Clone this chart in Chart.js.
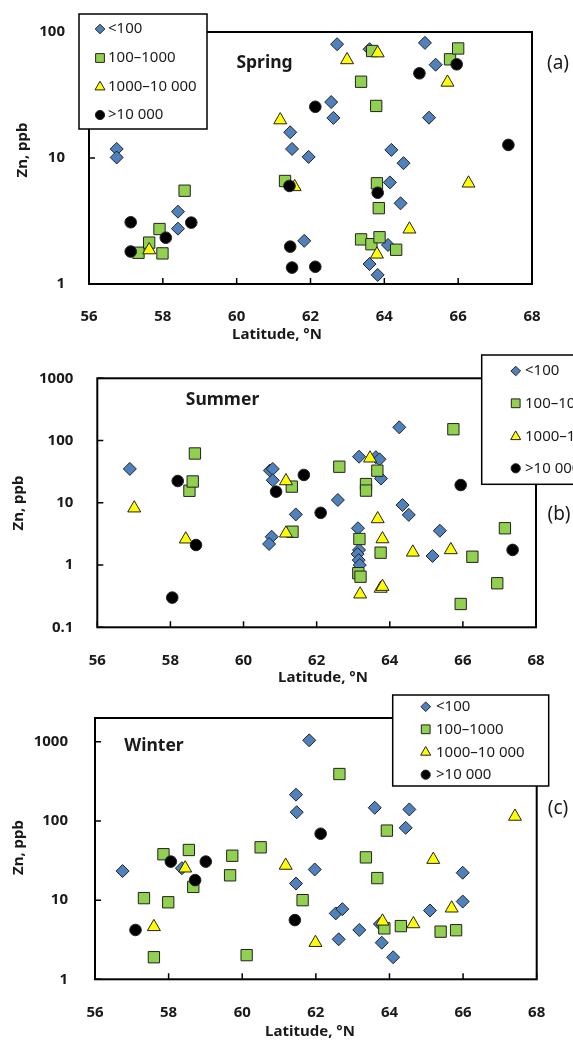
<!DOCTYPE html>
<html>
<head>
<meta charset="utf-8">
<title>Zn vs latitude</title>
<script src="https://cdn.jsdelivr.net/npm/chart.js@4.4.1/dist/chart.umd.min.js"></script>
<style>
  html, body { margin: 0; padding: 0; background: #fff; }
  body { width: 573px; height: 1040px; position: relative; overflow: hidden; }
  canvas { position: absolute; left: 0; }
</style>
</head>
<body>
<canvas id="springChart" width="573" height="345" style="top:0"></canvas>
<canvas id="summerChart" width="573" height="345" style="top:345px"></canvas>
<canvas id="winterChart" width="573" height="350" style="top:690px"></canvas>
<script>
// ============================================
// DATA  (points are [latitude °N, Zn ppb])
// ============================================
const latTicks = [56, 58, 60, 62, 64, 66, 68];
const springZnTicks = [1, 10, 100];
const summerZnTicks = [0.1, 1, 10, 100, 1000];
const winterZnTicks = [1, 10, 100, 1000];
const groupLabels = ['<100', '100–1000', '1000–10 000', '>10 000'];

// Spring
const springLt100 = [[56.75,11.8],[56.75,10.1],[58.41,3.75],[58.41,2.75],[61.45,16],[61.5,11.8],[61.95,10.2],[61.83,2.2],[62.72,80],[62.56,27.8],[62.62,20.8],[63.6,73],[63.6,1.44],[63.82,1.18],[64.1,2.04],[64.19,11.6],[64.52,9.1],[64.15,6.4],[64.44,4.37],[65.1,82],[65.39,55],[65.21,20.9]];
const spring100to1000 = [[57.34,1.77],[57.63,2.13],[57.91,2.73],[57.99,1.75],[58.59,5.5],[61.31,6.57],[63.37,40.3],[63.67,70.7],[63.78,25.9],[63.8,6.3],[63.85,4.0],[63.37,2.26],[63.65,2.07],[63.87,2.35],[64.32,1.87],[65.78,60.7],[66.0,74]];
const spring1000to10000 = [[57.63,1.86],[61.18,20],[61.57,5.9],[62.99,60],[63.82,68],[63.8,1.72],[64.68,2.72],[65.71,39.8],[66.28,6.3]];
const springGt10000 = [[57.13,3.09],[57.13,1.81],[58.08,2.33],[58.77,3.07],[61.43,6.0],[61.45,1.98],[61.5,1.35],[62.13,25.5],[62.13,1.37],[63.82,5.3],[64.95,47],[65.96,55.4],[67.36,12.7]];

// Summer
const summerLt100 = [[56.89,35],[60.72,33],[60.8,35],[60.8,23],[60.77,2.85],[60.7,2.18],[61.43,6.5],[62.58,11.1],[63.16,55],[63.62,54],[63.72,50],[63.76,24.5],[63.13,3.9],[63.16,1.75],[63.12,1.5],[63.15,1.2],[63.18,1.0],[64.26,163],[64.35,9.2],[64.52,6.4],[65.17,1.4],[65.37,3.56]];
const summer100to1000 = [[58.52,15.6],[58.61,22],[58.67,62],[61.32,18.2],[61.34,3.43],[62.62,38],[63.35,20],[63.35,15.7],[63.66,32.8],[63.17,2.62],[63.75,1.58],[63.14,0.74],[63.2,0.65],[65.74,152],[65.94,0.237],[66.26,1.36],[66.94,0.51],[67.15,3.9]];
const summer1000to10000 = [[57.01,8.2],[58.42,2.6],[61.16,22.4],[61.16,3.24],[63.46,52],[63.67,5.5],[63.8,2.62],[63.19,0.34],[63.75,0.42],[63.8,0.45],[64.63,1.6],[65.67,1.75]];
const summerGt10000 = [[58.05,0.3],[58.2,22.4],[58.7,2.1],[60.89,15.1],[61.65,28],[62.11,6.9],[65.94,19.3],[67.36,1.75]];

// Winter
const winterLt100 = [[56.75,23.3],[58.36,25.3],[61.46,215],[61.48,129],[61.46,16.2],[61.82,1044],[61.97,24.4],[62.54,6.8],[62.72,7.7],[62.62,3.2],[63.18,4.2],[63.6,147],[63.74,5.0],[63.79,2.9],[64.1,1.9],[64.44,82],[64.54,140],[65.1,7.4],[65.99,22.2],[65.99,9.6]];
const winter100to1000 = [[57.33,10.6],[57.6,1.9],[57.86,38],[57.99,9.4],[58.55,43],[58.67,14.7],[59.67,20.6],[59.73,36.4],[60.12,2.02],[60.5,46.5],[61.64,10],[62.64,392],[63.36,34.7],[63.67,19],[63.93,75.6],[63.86,4.4],[64.31,4.7],[65.39,4.0],[65.81,4.17]];
const winter1000to10000 = [[57.6,4.6],[58.45,25.3],[61.18,27.4],[61.99,2.9],[63.81,5.4],[64.65,5.0],[65.19,32.5],[65.69,7.9],[67.41,114]];
const winterGt10000 = [[57.1,4.2],[58.06,30.7],[58.72,17.9],[59.01,30.7],[61.43,5.6],[62.13,69]];

// ============================================
// STYLE
// ============================================
const FONT = "'Noto Sans', 'DejaVu Sans', sans-serif";
const TEXT = '#1a1a1a';
const markers = [
  { style: 'rectRot',  fill: '#4F81BD', radius: 6.5, legendRadius: 4.8 },
  { style: 'rect',     fill: '#92D050', radius: 8,   legendRadius: 6.2 },
  { style: 'triangle', fill: '#FFFF00', radius: 7.5, legendRadius: 5.8 },
  { style: 'circle',   fill: '#000000', radius: 5.8, legendRadius: 4.6 }
];

// frame, inward tick marks, panel texts and the boxed legend
const panelDecor = {
  id: 'panelDecor',
  beforeDatasetsDraw(chart) {
    const a = chart.chartArea, ctx = chart.ctx;
    const sx = chart.scales.x, sy = chart.scales.y;
    ctx.save();
    ctx.strokeStyle = '#000';
    ctx.lineWidth = 1.5;
    ctx.beginPath();
    sx.ticks.forEach(function(t) {
      const px = sx.getPixelForValue(t.value);
      ctx.moveTo(px, a.bottom);
      ctx.lineTo(px, a.bottom - 6);
    });
    sy.ticks.forEach(function(t) {
      const py = sy.getPixelForValue(t.value);
      ctx.moveTo(a.left, py);
      ctx.lineTo(a.left + 6, py);
    });
    ctx.stroke();
    ctx.lineWidth = 2;
    ctx.strokeRect(a.left, a.top, a.right - a.left, a.bottom - a.top);
    ctx.restore();
  },
  afterDraw(chart, args, o) {
    const ctx = chart.ctx;
    ctx.save();
    ctx.fillStyle = TEXT;
    ctx.textAlign = 'center';
    ctx.textBaseline = 'middle';

    ctx.font = 'bold 17.5px ' + FONT;
    ctx.fillText(o.title, o.titlePos[0], o.titlePos[1]);
    ctx.font = '19px ' + FONT;
    ctx.fillText(o.tag, o.tagPos[0], o.tagPos[1]);
    ctx.font = 'bold 15px ' + FONT;
    ctx.fillText('Latitude, °N', o.xTitlePos[0], o.xTitlePos[1]);
    ctx.save();
    ctx.translate(o.yTitlePos[0], o.yTitlePos[1]);
    ctx.rotate(-Math.PI / 2);
    ctx.fillText('Zn, ppb', 0, 0);
    ctx.restore();

    // legend
    const lg = o.legend;
    ctx.fillStyle = '#fff';
    ctx.fillRect(lg.x, lg.y, lg.w, lg.h);
    ctx.strokeStyle = '#000';
    ctx.lineWidth = 1.5;
    ctx.strokeRect(lg.x, lg.y, lg.w, lg.h);
    chart.data.datasets.forEach(function(ds, i) {
      const y = lg.rows[i];
      ctx.fillStyle = ds.backgroundColor;
      ctx.strokeStyle = ds.borderColor;
      ctx.lineWidth = 1;
      Chart.helpers.drawPoint(ctx, {
        pointStyle: ds.pointStyle, radius: markers[i].legendRadius, borderWidth: 1, rotation: 0
      }, lg.markerX, y);
      ctx.fillStyle = TEXT;
      ctx.font = '15px ' + FONT;
      ctx.textAlign = 'left';
      ctx.fillText(ds.label, lg.textX, y);
    });
    ctx.restore();
  }
};

function makeChart(id, series, zMin, zMax, zTicks, pad, yPad, decor) {
  return new Chart(document.getElementById(id), {
    type: 'scatter',
    data: {
      datasets: series.map(function(pts, i) {
        return {
          label: groupLabels[i],
          data: pts.map(p => ({ x: p[0], y: p[1] })),
          pointStyle: markers[i].style,
          pointRadius: markers[i].radius,
          pointHoverRadius: markers[i].radius,
          backgroundColor: markers[i].fill,
          borderColor: '#222',
          borderWidth: 1,
          order: 4 - i
        };
      })
    },
    options: {
      responsive: false,
      animation: false,
      events: [],
      layout: { autoPadding: false, padding: pad },
      plugins: {
        legend: { display: false },
        tooltip: { enabled: false },
        panelDecor: decor
      },
      scales: {
        x: {
          type: 'linear', min: 56, max: 68,
          afterBuildTicks: s => { s.ticks = latTicks.map(v => ({ value: v })); },
          afterFit: s => { s.height = 40; },
          border: { display: false },
          grid: { display: false },
          ticks: { autoSkip: false, maxRotation: 0, padding: 16, color: TEXT,
                   font: { family: FONT, size: 15, weight: 'bold' } }
        },
        y: {
          type: 'logarithmic', min: zMin, max: zMax,
          afterBuildTicks: s => { s.ticks = zTicks.map(v => ({ value: v })); },
          afterFit: s => { s.width = pad.left0; },
          border: { display: false },
          grid: { display: false },
          ticks: { autoSkip: false, padding: yPad, color: TEXT,
                   font: { family: FONT, size: 15, weight: 'bold' },
                   callback: v => String(v) }
        }
      }
    },
    plugins: [panelDecor]
  });
}

makeChart('springChart',
  [springLt100, spring100to1000, spring1000to10000, springGt10000],
  1, 100, springZnTicks,
  { left: 0, top: 32, right: 41, bottom: 21, left0: 89 }, 16,
  { title: 'Spring', titlePos: [264.5, 63], tag: '(a)', tagPos: [558, 64],
    xTitlePos: [277, 335], yTitlePos: [23, 150],
    legend: { x: 79, y: 14, w: 128, h: 115, markerX: 100, textX: 108, rows: [29, 58, 87, 115] } });

makeChart('summerChart',
  [summerLt100, summer100to1000, summer1000to10000, summerGt10000],
  0.1, 1000, summerZnTicks,
  { left: 0, top: 33.3, right: 37, bottom: 22.7, left0: 97.3 }, 16,
  { title: 'Summer', titlePos: [222.5, 55], tag: '(b)', tagPos: [559, 170],
    xTitlePos: [323, 333], yTitlePos: [19, 158],
    legend: { x: 481.7, y: 10, w: 130, h: 129.3, markerX: 515.7, textX: 525, rows: [26, 58.3, 91.7, 123.3] } });

makeChart('winterChart',
  [winterLt100, winter100to1000, winter1000to10000, winterGt10000],
  1, 2000, winterZnTicks,
  { left: 0, top: 22.7, right: 36.3, bottom: 20.7, left0: 95 }, 19,
  { title: 'Winter', titlePos: [154, 56], tag: '(c)', tagPos: [558, 119],
    xTitlePos: [310, 342], yTitlePos: [19, 157.5],
    legend: { x: 392.7, y: 5, w: 156, h: 91, markerX: 425.7, textX: 436, rows: [16.7, 39.3, 62.3, 84.7] } });
</script>
</body>
</html>
